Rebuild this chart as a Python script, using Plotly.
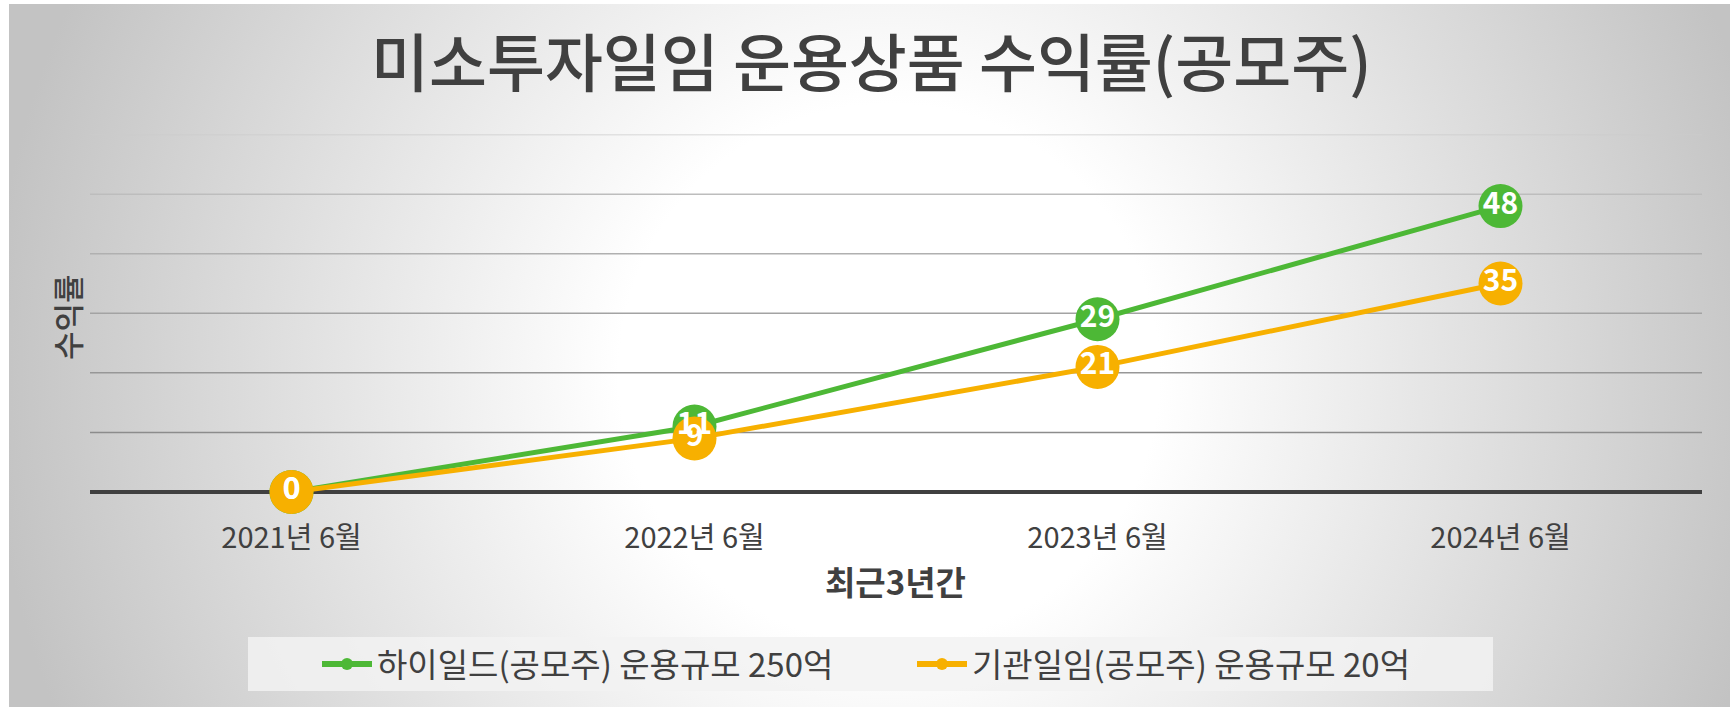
import base64
import plotly.graph_objects as go

# ---- data ----
categories = ["2021년 6월", "2022년 6월", "2023년 6월", "2024년 6월"]
series_names = ["하이일드(공모주) 운용규모 250억", "기관일임(공모주) 운용규모 20억"]
highyield = [0, 11, 29, 48]
institutional = [0, 9, 21, 35]
gridvals = [10, 20, 30, 40, 50, 60]

title_text = "미소투자일임 운용상품 수익률(공모주)"
x_title = "최근3년간"
y_title = "수익률"

GREEN = "#4DB836"
ORANGE = "#F7B000"
FONT = "Noto Sans CJK KR"
DARK = "#404040"
W, H = 1730, 707

# background radial gradient (white centre, grey edges)
svg = f"""<svg xmlns='http://www.w3.org/2000/svg' width='1721' height='703' viewBox='0 0 1721 703'>
<defs><radialGradient id='g' gradientUnits='userSpaceOnUse' cx='880' cy='370' r='900'>
<stop offset='0' stop-color='#ffffff'/><stop offset='0.3' stop-color='#ffffff'/>
<stop offset='1' stop-color='#c3c3c3'/></radialGradient></defs>
<rect x='0' y='0' width='1721' height='703' fill='url(#g)'/></svg>"""
bg_uri = "data:image/svg+xml;base64," + base64.b64encode(svg.encode()).decode()

fig = go.Figure()

for name, vals, col in [(series_names[0], highyield, GREEN), (series_names[1], institutional, ORANGE)]:
    fig.add_trace(go.Scatter(
        x=categories, y=vals, mode="lines+markers", name=name, showlegend=False,
        line=dict(color=col, width=5), marker=dict(size=44, color=col),
        cliponaxis=False, hoverinfo="x+y"))
for vals in [highyield, institutional]:
    fig.add_trace(go.Scatter(
        x=categories, y=vals, mode="text", text=[str(v) for v in vals],
        textposition="middle center", showlegend=False, cliponaxis=False,
        textfont=dict(family=FONT, size=30, color="white", weight=600),
        hoverinfo="skip"))
# legend entries
for name, col in [(series_names[0], GREEN), (series_names[1], ORANGE)]:
    fig.add_trace(go.Scatter(
        x=[None], y=[None], mode="lines+markers", name=name,
        line=dict(color=col, width=6), marker=dict(size=12, color=col)))

shapes = []
gcolors = ["#8c8c8c", "#979797", "#a3a3a3", "#b0b0b0", "#bdbdbd", "#cbcbcb"]
for gv, gc in zip(gridvals, gcolors):
    shapes.append(dict(type="line", xref="x domain", x0=0, x1=1, yref="y", y0=gv, y1=gv,
                       line=dict(color=gc, width=1.5), layer="below"))
# legend background box
shapes.append(dict(type="rect", xref="paper", yref="paper",
                   x0=248 / W, x1=1493 / W, y0=1 - 691 / H, y1=1 - 637 / H,
                   fillcolor="rgba(242,242,242,0.85)", line=dict(width=0), layer="below"))

fig.update_layout(
    width=W, height=H, autosize=False,
    margin=dict(l=0, r=0, t=0, b=0),
    paper_bgcolor="white", plot_bgcolor="rgba(0,0,0,0)",
    font=dict(family=FONT, color=DARK),
    images=[dict(source=bg_uri, xref="paper", yref="paper", x=9 / W, y=1 - 4 / H,
                 sizex=1721 / W, sizey=703 / H, xanchor="left", yanchor="top",
                 sizing="stretch", layer="below")],
    shapes=shapes,
    xaxis=dict(domain=[90 / W, 1702 / W], type="category", range=[-0.5, 3.5],
               showgrid=False, showline=False, zeroline=False, ticks="",
               tickfont=dict(family=FONT, size=29, color=DARK),
               ticklabelstandoff=26),
    yaxis=dict(domain=[1 - 492 / H, 1 - 134.6 / H], range=[0, 60], tickvals=gridvals,
               showgrid=False, showticklabels=False, ticks="", showline=False,
               zeroline=True, zerolinecolor=DARK, zerolinewidth=4),
    legend=dict(orientation="h", x=912 / W, xanchor="center", y=1 - 664 / H, yanchor="middle",
                bgcolor="rgba(0,0,0,0)", font=dict(family=FONT, size=33, color=DARK),
                entrywidth=530, itemwidth=50),
    annotations=[
        dict(text=title_text, xref="paper", yref="paper", x=871 / W, y=1 - 59 / H,
             showarrow=False, xanchor="center", yanchor="middle",
             font=dict(family=FONT, size=63, color=DARK, weight=500)),
        dict(text=y_title, xref="paper", yref="paper", x=66 / W, y=1 - 317 / H,
             showarrow=False, xanchor="center", yanchor="middle", textangle=-90,
             font=dict(family=FONT, size=31, color=DARK, weight=500)),
        dict(text=x_title, xref="paper", yref="paper", x=895 / W, y=1 - 581 / H,
             showarrow=False, xanchor="center", yanchor="middle",
             font=dict(family=FONT, size=33, color=DARK, weight=600)),
    ],
)

fig.write_html("out.html")
